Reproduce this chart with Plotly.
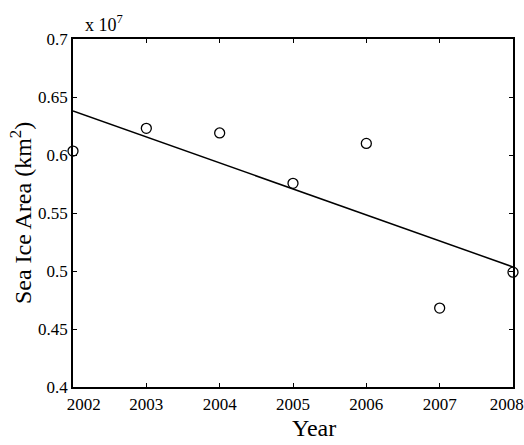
import plotly.graph_objects as go

years = [2002, 2003, 2004, 2005, 2006, 2007, 2008]
year_labels = ["\u00a0\u00a0\u00a0\u00a0\u00a02002", "2003", "2004", "2005", "2006", "2007", "2008\u00a0\u00a0\u00a0"]
area = [0.6034, 0.623, 0.619, 0.5756, 0.610, 0.468, 0.499]  # x 10^7 km^2
trend_years = [2002, 2008]
trend_area = [0.638, 0.5035]
y_ticks = [0.4, 0.45, 0.5, 0.55, 0.6, 0.65, 0.7]
y_labels = ["0.4", "0.45", "0.5", "0.55", "0.6", "0.65", "0.7"]

FONT = "Liberation Serif"

fig = go.Figure()
fig.add_trace(go.Scatter(x=trend_years, y=trend_area, mode="lines",
                         line=dict(color="black", width=1.5), showlegend=False))
fig.add_trace(go.Scatter(x=years, y=area, mode="markers",
                         marker=dict(symbol="circle-open", size=10, color="black",
                                     line=dict(width=1.3, color="black")),
                         showlegend=False, cliponaxis=False))

axis_common = dict(showgrid=False, zeroline=False, showline=True, linecolor="black",
                   linewidth=1.5, mirror="allticks", ticks="inside", ticklen=4,
                   tickcolor="black", tickwidth=1.2, ticklabeloverflow="allow",
                   automargin=False,
                   tickfont=dict(family=FONT, size=17, color="black"))

fig.update_xaxes(range=[2002, 2008], tickmode="array", tickvals=years,
                 ticktext=year_labels, ticklabelstandoff=1, **axis_common)
fig.update_yaxes(range=[0.4, 0.7], tickmode="array", tickvals=y_ticks,
                 ticktext=y_labels, **axis_common)

fig.add_annotation(text="x 10<sup>7</sup>", xref="paper", yref="paper", x=0.023, y=1.006,
                   xanchor="left", yanchor="bottom", showarrow=False,
                   font=dict(family=FONT, size=18, color="black"))
fig.add_annotation(text="Year", xref="paper", yref="paper", x=0.548, y=-0.118,
                   xanchor="center", yanchor="middle", showarrow=False,
                   font=dict(family=FONT, size=24, color="black"))
fig.add_annotation(text="Sea Ice Area (km<sup>2</sup>)", xref="paper", yref="paper",
                   x=-0.118, y=0.5, textangle=-90, xanchor="center", yanchor="middle",
                   showarrow=False, font=dict(family=FONT, size=24, color="black"))

fig.update_layout(width=524, height=445, margin=dict(l=73, r=11, t=39, b=58, autoexpand=False),
                  paper_bgcolor="white", plot_bgcolor="white")

fig.write_html("out.html", config={"displayModeBar": False},
               post_script="document.body.style.margin='0';document.body.style.overflow='hidden';")
